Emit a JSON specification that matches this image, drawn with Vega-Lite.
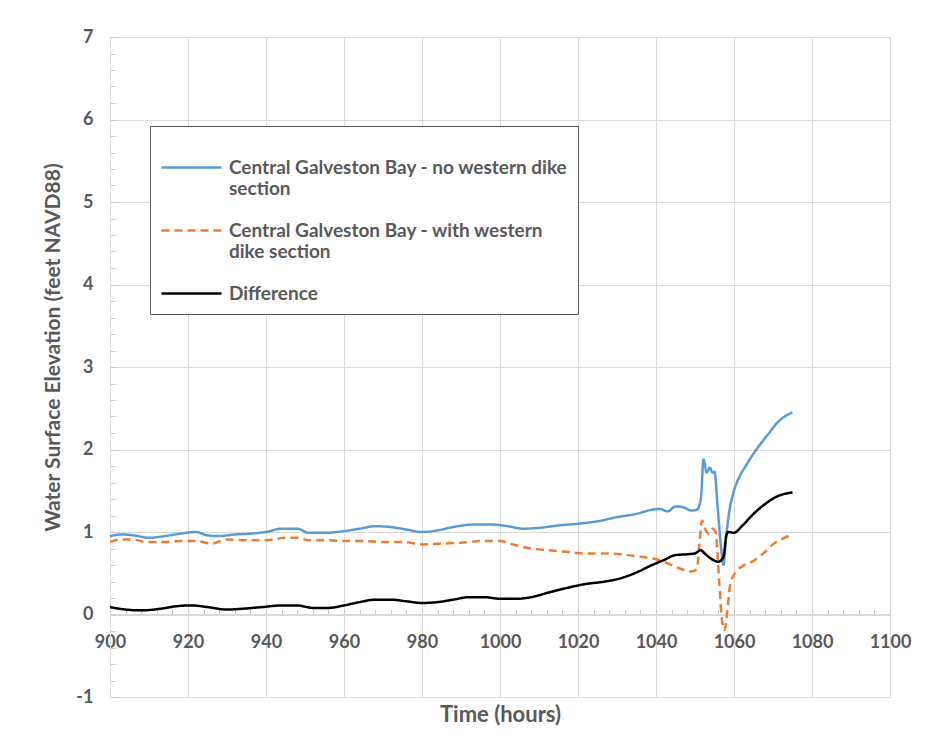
{
  "$schema": "https://vega.github.io/schema/vega-lite/v6.json",
  "width": 780,
  "height": 660,
  "autosize": {"type": "none"},
  "padding": {"left": 110, "top": 37, "right": 45, "bottom": 58},
  "background": "white",
  "config": {
    "font": "Lato",
    "view": {"stroke": null},
    "axis": {"labelColor": "#595959", "titleColor": "#595959", "labelFont": "Lato", "titleFont": "Lato", "gridColor": "#d9d9d9", "domainColor": "#d9d9d9", "tickColor": "#c8c8c8"}
  },
  "data": {
    "values": [
      {"s": "Central Galveston Bay - no western dike section", "t": 900, "v": 0.95},
      {"s": "Central Galveston Bay - no western dike section", "t": 903, "v": 0.97},
      {"s": "Central Galveston Bay - no western dike section", "t": 906, "v": 0.96},
      {"s": "Central Galveston Bay - no western dike section", "t": 910, "v": 0.93},
      {"s": "Central Galveston Bay - no western dike section", "t": 914, "v": 0.95},
      {"s": "Central Galveston Bay - no western dike section", "t": 918, "v": 0.98},
      {"s": "Central Galveston Bay - no western dike section", "t": 922, "v": 1.0},
      {"s": "Central Galveston Bay - no western dike section", "t": 925, "v": 0.96},
      {"s": "Central Galveston Bay - no western dike section", "t": 928, "v": 0.95},
      {"s": "Central Galveston Bay - no western dike section", "t": 932, "v": 0.97},
      {"s": "Central Galveston Bay - no western dike section", "t": 936, "v": 0.98},
      {"s": "Central Galveston Bay - no western dike section", "t": 940, "v": 1.0},
      {"s": "Central Galveston Bay - no western dike section", "t": 944, "v": 1.04},
      {"s": "Central Galveston Bay - no western dike section", "t": 948, "v": 1.04},
      {"s": "Central Galveston Bay - no western dike section", "t": 951, "v": 0.99},
      {"s": "Central Galveston Bay - no western dike section", "t": 955, "v": 0.99},
      {"s": "Central Galveston Bay - no western dike section", "t": 960, "v": 1.01},
      {"s": "Central Galveston Bay - no western dike section", "t": 964, "v": 1.04},
      {"s": "Central Galveston Bay - no western dike section", "t": 968, "v": 1.07},
      {"s": "Central Galveston Bay - no western dike section", "t": 972, "v": 1.06},
      {"s": "Central Galveston Bay - no western dike section", "t": 976, "v": 1.03},
      {"s": "Central Galveston Bay - no western dike section", "t": 980, "v": 1.0},
      {"s": "Central Galveston Bay - no western dike section", "t": 984, "v": 1.02},
      {"s": "Central Galveston Bay - no western dike section", "t": 988, "v": 1.06},
      {"s": "Central Galveston Bay - no western dike section", "t": 993, "v": 1.09},
      {"s": "Central Galveston Bay - no western dike section", "t": 998, "v": 1.09},
      {"s": "Central Galveston Bay - no western dike section", "t": 1002, "v": 1.07},
      {"s": "Central Galveston Bay - no western dike section", "t": 1006, "v": 1.04},
      {"s": "Central Galveston Bay - no western dike section", "t": 1010, "v": 1.05},
      {"s": "Central Galveston Bay - no western dike section", "t": 1015, "v": 1.08},
      {"s": "Central Galveston Bay - no western dike section", "t": 1020, "v": 1.1},
      {"s": "Central Galveston Bay - no western dike section", "t": 1025, "v": 1.13},
      {"s": "Central Galveston Bay - no western dike section", "t": 1030, "v": 1.18},
      {"s": "Central Galveston Bay - no western dike section", "t": 1035, "v": 1.22},
      {"s": "Central Galveston Bay - no western dike section", "t": 1039, "v": 1.27},
      {"s": "Central Galveston Bay - no western dike section", "t": 1041, "v": 1.28},
      {"s": "Central Galveston Bay - no western dike section", "t": 1043, "v": 1.25},
      {"s": "Central Galveston Bay - no western dike section", "t": 1045, "v": 1.31},
      {"s": "Central Galveston Bay - no western dike section", "t": 1047, "v": 1.3},
      {"s": "Central Galveston Bay - no western dike section", "t": 1049, "v": 1.26},
      {"s": "Central Galveston Bay - no western dike section", "t": 1050.5, "v": 1.27},
      {"s": "Central Galveston Bay - no western dike section", "t": 1051.5, "v": 1.4},
      {"s": "Central Galveston Bay - no western dike section", "t": 1052.2, "v": 1.88},
      {"s": "Central Galveston Bay - no western dike section", "t": 1053, "v": 1.72},
      {"s": "Central Galveston Bay - no western dike section", "t": 1053.8, "v": 1.78},
      {"s": "Central Galveston Bay - no western dike section", "t": 1054.5, "v": 1.72},
      {"s": "Central Galveston Bay - no western dike section", "t": 1055, "v": 1.73},
      {"s": "Central Galveston Bay - no western dike section", "t": 1055.8, "v": 1.3},
      {"s": "Central Galveston Bay - no western dike section", "t": 1056.6, "v": 0.85},
      {"s": "Central Galveston Bay - no western dike section", "t": 1057.3, "v": 0.6},
      {"s": "Central Galveston Bay - no western dike section", "t": 1058, "v": 0.95},
      {"s": "Central Galveston Bay - no western dike section", "t": 1058.8, "v": 1.25},
      {"s": "Central Galveston Bay - no western dike section", "t": 1060, "v": 1.5},
      {"s": "Central Galveston Bay - no western dike section", "t": 1061.5, "v": 1.68},
      {"s": "Central Galveston Bay - no western dike section", "t": 1063, "v": 1.8},
      {"s": "Central Galveston Bay - no western dike section", "t": 1065, "v": 1.95},
      {"s": "Central Galveston Bay - no western dike section", "t": 1067, "v": 2.08},
      {"s": "Central Galveston Bay - no western dike section", "t": 1069, "v": 2.2},
      {"s": "Central Galveston Bay - no western dike section", "t": 1071, "v": 2.32},
      {"s": "Central Galveston Bay - no western dike section", "t": 1073, "v": 2.4},
      {"s": "Central Galveston Bay - no western dike section", "t": 1075, "v": 2.45},
      {"s": "Central Galveston Bay - with western dike section", "t": 900, "v": 0.88},
      {"s": "Central Galveston Bay - with western dike section", "t": 903, "v": 0.91},
      {"s": "Central Galveston Bay - with western dike section", "t": 906, "v": 0.91},
      {"s": "Central Galveston Bay - with western dike section", "t": 909, "v": 0.88},
      {"s": "Central Galveston Bay - with western dike section", "t": 914, "v": 0.88},
      {"s": "Central Galveston Bay - with western dike section", "t": 918, "v": 0.89},
      {"s": "Central Galveston Bay - with western dike section", "t": 922, "v": 0.89},
      {"s": "Central Galveston Bay - with western dike section", "t": 926, "v": 0.86},
      {"s": "Central Galveston Bay - with western dike section", "t": 930, "v": 0.91},
      {"s": "Central Galveston Bay - with western dike section", "t": 935, "v": 0.9},
      {"s": "Central Galveston Bay - with western dike section", "t": 940, "v": 0.9},
      {"s": "Central Galveston Bay - with western dike section", "t": 945, "v": 0.93},
      {"s": "Central Galveston Bay - with western dike section", "t": 948, "v": 0.93},
      {"s": "Central Galveston Bay - with western dike section", "t": 951, "v": 0.9},
      {"s": "Central Galveston Bay - with western dike section", "t": 956, "v": 0.9},
      {"s": "Central Galveston Bay - with western dike section", "t": 960, "v": 0.89},
      {"s": "Central Galveston Bay - with western dike section", "t": 965, "v": 0.89},
      {"s": "Central Galveston Bay - with western dike section", "t": 970, "v": 0.88},
      {"s": "Central Galveston Bay - with western dike section", "t": 975, "v": 0.88},
      {"s": "Central Galveston Bay - with western dike section", "t": 980, "v": 0.85},
      {"s": "Central Galveston Bay - with western dike section", "t": 985, "v": 0.86},
      {"s": "Central Galveston Bay - with western dike section", "t": 990, "v": 0.87},
      {"s": "Central Galveston Bay - with western dike section", "t": 995, "v": 0.89},
      {"s": "Central Galveston Bay - with western dike section", "t": 1000, "v": 0.89},
      {"s": "Central Galveston Bay - with western dike section", "t": 1004, "v": 0.84},
      {"s": "Central Galveston Bay - with western dike section", "t": 1008, "v": 0.8},
      {"s": "Central Galveston Bay - with western dike section", "t": 1012, "v": 0.78},
      {"s": "Central Galveston Bay - with western dike section", "t": 1017, "v": 0.76},
      {"s": "Central Galveston Bay - with western dike section", "t": 1022, "v": 0.74},
      {"s": "Central Galveston Bay - with western dike section", "t": 1027, "v": 0.74},
      {"s": "Central Galveston Bay - with western dike section", "t": 1031, "v": 0.73},
      {"s": "Central Galveston Bay - with western dike section", "t": 1036, "v": 0.7},
      {"s": "Central Galveston Bay - with western dike section", "t": 1040, "v": 0.67},
      {"s": "Central Galveston Bay - with western dike section", "t": 1043, "v": 0.62},
      {"s": "Central Galveston Bay - with western dike section", "t": 1046, "v": 0.56},
      {"s": "Central Galveston Bay - with western dike section", "t": 1049, "v": 0.52},
      {"s": "Central Galveston Bay - with western dike section", "t": 1050.5, "v": 0.55},
      {"s": "Central Galveston Bay - with western dike section", "t": 1051.2, "v": 0.9},
      {"s": "Central Galveston Bay - with western dike section", "t": 1051.8, "v": 1.14},
      {"s": "Central Galveston Bay - with western dike section", "t": 1052.5, "v": 1.05},
      {"s": "Central Galveston Bay - with western dike section", "t": 1053.5, "v": 0.98},
      {"s": "Central Galveston Bay - with western dike section", "t": 1054.5, "v": 1.04},
      {"s": "Central Galveston Bay - with western dike section", "t": 1055.3, "v": 1.0},
      {"s": "Central Galveston Bay - with western dike section", "t": 1056.2, "v": 0.4},
      {"s": "Central Galveston Bay - with western dike section", "t": 1057, "v": -0.1},
      {"s": "Central Galveston Bay - with western dike section", "t": 1057.6, "v": -0.19},
      {"s": "Central Galveston Bay - with western dike section", "t": 1058.3, "v": 0.05},
      {"s": "Central Galveston Bay - with western dike section", "t": 1059, "v": 0.35},
      {"s": "Central Galveston Bay - with western dike section", "t": 1060.5, "v": 0.52},
      {"s": "Central Galveston Bay - with western dike section", "t": 1062, "v": 0.58},
      {"s": "Central Galveston Bay - with western dike section", "t": 1065, "v": 0.65},
      {"s": "Central Galveston Bay - with western dike section", "t": 1068, "v": 0.76},
      {"s": "Central Galveston Bay - with western dike section", "t": 1070, "v": 0.85},
      {"s": "Central Galveston Bay - with western dike section", "t": 1072.5, "v": 0.92},
      {"s": "Central Galveston Bay - with western dike section", "t": 1075, "v": 0.97},
      {"s": "Difference", "t": 900, "v": 0.09},
      {"s": "Difference", "t": 904, "v": 0.06},
      {"s": "Difference", "t": 908, "v": 0.05},
      {"s": "Difference", "t": 913, "v": 0.07},
      {"s": "Difference", "t": 917, "v": 0.1},
      {"s": "Difference", "t": 921, "v": 0.11},
      {"s": "Difference", "t": 925, "v": 0.09},
      {"s": "Difference", "t": 930, "v": 0.06},
      {"s": "Difference", "t": 934, "v": 0.07},
      {"s": "Difference", "t": 939, "v": 0.09},
      {"s": "Difference", "t": 944, "v": 0.11},
      {"s": "Difference", "t": 948, "v": 0.11},
      {"s": "Difference", "t": 952, "v": 0.08},
      {"s": "Difference", "t": 956, "v": 0.08},
      {"s": "Difference", "t": 960, "v": 0.11},
      {"s": "Difference", "t": 964, "v": 0.15},
      {"s": "Difference", "t": 968, "v": 0.18},
      {"s": "Difference", "t": 972, "v": 0.18},
      {"s": "Difference", "t": 976, "v": 0.16},
      {"s": "Difference", "t": 980, "v": 0.14},
      {"s": "Difference", "t": 984, "v": 0.15},
      {"s": "Difference", "t": 988, "v": 0.18},
      {"s": "Difference", "t": 992, "v": 0.21},
      {"s": "Difference", "t": 996, "v": 0.21},
      {"s": "Difference", "t": 1000, "v": 0.19},
      {"s": "Difference", "t": 1004, "v": 0.19},
      {"s": "Difference", "t": 1008, "v": 0.21},
      {"s": "Difference", "t": 1012, "v": 0.26},
      {"s": "Difference", "t": 1017, "v": 0.32},
      {"s": "Difference", "t": 1022, "v": 0.37},
      {"s": "Difference", "t": 1027, "v": 0.4},
      {"s": "Difference", "t": 1031, "v": 0.44},
      {"s": "Difference", "t": 1035, "v": 0.51},
      {"s": "Difference", "t": 1039, "v": 0.6},
      {"s": "Difference", "t": 1042, "v": 0.66},
      {"s": "Difference", "t": 1045, "v": 0.72},
      {"s": "Difference", "t": 1048, "v": 0.73},
      {"s": "Difference", "t": 1050, "v": 0.74},
      {"s": "Difference", "t": 1051.5, "v": 0.78},
      {"s": "Difference", "t": 1052.5, "v": 0.74},
      {"s": "Difference", "t": 1054, "v": 0.68},
      {"s": "Difference", "t": 1056, "v": 0.64},
      {"s": "Difference", "t": 1057.3, "v": 0.7},
      {"s": "Difference", "t": 1058, "v": 0.95},
      {"s": "Difference", "t": 1058.5, "v": 1.0},
      {"s": "Difference", "t": 1060, "v": 0.99},
      {"s": "Difference", "t": 1062, "v": 1.07},
      {"s": "Difference", "t": 1065, "v": 1.22},
      {"s": "Difference", "t": 1068, "v": 1.34},
      {"s": "Difference", "t": 1071, "v": 1.43},
      {"s": "Difference", "t": 1075, "v": 1.48}
    ]
  },
  "mark": {"type": "line", "interpolate": "monotone"},
  "encoding": {
    "x": {
      "field": "t", "type": "quantitative",
      "scale": {"domain": [900, 1100], "nice": false, "zero": false},
      "axis": {
        "title": "Time (hours)",
        "values": [900,904,908,912,916,920,924,928,932,936,940,944,948,952,956,960,964,968,972,976,980,984,988,992,996,1000,1004,1008,1012,1016,1020,1024,1028,1032,1036,1040,1044,1048,1052,1056,1060,1064,1068,1072,1076,1080,1084,1088,1092,1096,1100],
        "labelExpr": "datum.value % 20 === 0 ? '' + datum.value : ''",
        "offset": -83,
        "tickSize": -5,
        "labelPadding": 24,
        "labelFontSize": 18,
        "labelFontWeight": "bold",
        "labelFlush": false,
        "labelOverlap": false,
        "gridOpacity": {"condition": {"test": "datum.value % 20 !== 0", "value": 0}, "value": 1},
        "titleFontSize": 22,
        "titleFontWeight": "bold",
        "titleY": 90,
        "titleBaseline": "top"
      }
    },
    "y": {
      "field": "v", "type": "quantitative",
      "scale": {"domain": [-1, 7], "nice": false},
      "axis": {
        "title": "Water Surface Elevation (feet NAVD88)",
        "values": [-1,-0.8,-0.6,-0.4,-0.2,0,0.2,0.4,0.6,0.8,1,1.2,1.4,1.6,1.8,2,2.2,2.4,2.6,2.8,3,3.2,3.4,3.6,3.8,4,4.2,4.4,4.6,4.8,5,5.2,5.4,5.6,5.8,6,6.2,6.4,6.6,6.8,7],
        "labelExpr": "abs(datum.value - round(datum.value)) < 0.001 ? '' + round(datum.value) : ''",
        "gridOpacity": {"condition": {"test": "abs(datum.value - round(datum.value)) > 0.001", "value": 0}, "value": 1},
        "tickSize": -5,
        "labelPadding": 22,
        "labelFontSize": 18,
        "labelFontWeight": "bold",
        "labelOverlap": false,
        "titleFontSize": 21,
        "titleFontWeight": "bold",
        "titleX": -57,
        "titleY": 310,
        "titleBaseline": "middle",
        "titleAngle": 270
      }
    },
    "color": {
      "field": "s", "type": "nominal",
      "scale": {"domain": ["Central Galveston Bay - no western dike section", "Central Galveston Bay - with western dike section", "Difference"], "range": ["#5b9bd5", "#ed7d31", "#000000"]},
      "legend": {
        "title": null,
        "orient": "none",
        "legendX": 40,
        "legendY": 89,
        "direction": "vertical",
        "strokeColor": "#595959",
        "fillColor": "white",
        "padding": 10,
        "symbolType": "stroke",
        "symbolSize": 3600,
        "labelFontSize": 19,
        "labelFont": "Lato",
        "labelFontWeight": "bold",
        "labelColor": "#595959",
        "labelLimit": 500,
        "labelOffset": 6,
        "rowPadding": 0,
        "labelExpr": "datum.label === 'Difference' ? 'Difference' : (indexof(datum.label, 'no western') >= 0 ? ['Central Galveston Bay - no western dike', 'section'] : ['Central Galveston Bay - with western', 'dike section'])"
      }
    },
    "strokeDash": {
      "field": "s", "type": "nominal",
      "scale": {"domain": ["Central Galveston Bay - no western dike section", "Central Galveston Bay - with western dike section", "Difference"], "range": [[1, 0], [8, 5], [1, 0]]},
      "legend": null
    },
    "strokeWidth": {
      "field": "s", "type": "nominal",
      "scale": {"domain": ["Central Galveston Bay - no western dike section", "Central Galveston Bay - with western dike section", "Difference"], "range": [2.5, 2.5, 5]},
      "legend": null
    }
  }
}
